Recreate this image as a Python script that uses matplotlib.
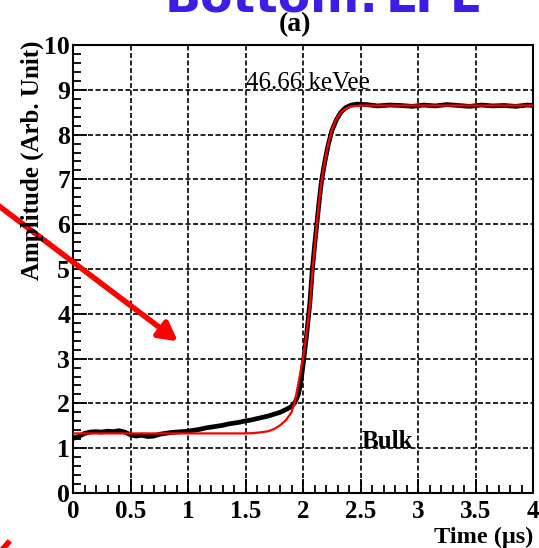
import matplotlib
matplotlib.use("Agg")
import matplotlib.pyplot as plt
from matplotlib.ticker import MultipleLocator

# pulse data (black)
t_data = [0.00, 0.05, 0.10, 0.15, 0.20, 0.25, 0.30, 0.35, 0.40, 0.45,
          0.50, 0.55, 0.60, 0.65, 0.70, 0.75, 0.80, 0.85, 0.90, 0.95,
          1.00, 1.05, 1.10, 1.15, 1.20, 1.25, 1.30, 1.35, 1.40, 1.45,
          1.50, 1.55, 1.60, 1.65, 1.70, 1.75, 1.80, 1.85, 1.90, 1.93,
          1.96, 1.98, 2.00, 2.03, 2.06, 2.08, 2.10, 2.12, 2.14, 2.16,
          2.19, 2.22, 2.25, 2.29, 2.33, 2.37, 2.42, 2.47, 2.55, 2.65,
          2.75, 2.85, 2.95, 3.05, 3.15, 3.25, 3.35, 3.45, 3.55, 3.65,
          3.75, 3.85, 3.95, 4.00]
amp_data = [1.22, 1.26, 1.33, 1.36, 1.37, 1.36, 1.38, 1.37, 1.39, 1.36,
            1.30, 1.27, 1.29, 1.26, 1.27, 1.31, 1.33, 1.35, 1.36, 1.37,
            1.38, 1.40, 1.42, 1.45, 1.47, 1.49, 1.51, 1.54, 1.56, 1.58,
            1.61, 1.63, 1.66, 1.69, 1.72, 1.76, 1.80, 1.86, 1.93, 2.02,
            2.20, 2.45, 2.85, 3.50, 4.25, 4.95, 5.50, 6.00, 6.50, 6.95,
            7.40, 7.78, 8.08, 8.33, 8.50, 8.60, 8.66, 8.68, 8.67, 8.64,
            8.66, 8.65, 8.63, 8.66, 8.64, 8.67, 8.65, 8.63, 8.66, 8.64,
            8.65, 8.63, 8.66, 8.65]

# fitted pulse (red)
t_fit = [0.00, 0.50, 1.00, 1.50, 1.55, 1.60, 1.65, 1.70, 1.75, 1.80,
         1.85, 1.90, 1.93, 1.96, 2.00, 2.03, 2.06, 2.08, 2.10, 2.12,
         2.14, 2.16, 2.19, 2.22, 2.25, 2.29, 2.33, 2.37, 2.42, 2.50,
         3.00, 4.00]
amp_fit = [1.33, 1.33, 1.33, 1.33, 1.335, 1.345, 1.36, 1.38, 1.43, 1.51,
           1.62, 1.80, 2.05, 2.45, 3.00, 3.55, 4.20, 4.90, 5.45, 6.00,
           6.50, 6.95, 7.40, 7.80, 8.10, 8.35, 8.50, 8.58, 8.63, 8.65,
           8.65, 8.65]

W, H = 539, 548
fig = plt.figure(figsize=(W / 100, H / 100), dpi=100)
ax = fig.add_axes([73 / W, 1 - 493 / H, 460 / W, 448 / H])

serif = ["Liberation Serif", "DejaVu Serif"]

ax.plot(t_data, amp_data, color="black", lw=3.4, solid_joinstyle="miter", zorder=3)
ax.plot(t_fit, amp_fit, color="red", lw=1.6, zorder=4)

ax.set_xlim(0, 4)
ax.set_ylim(0, 10)
ax.xaxis.set_major_locator(MultipleLocator(0.5))
ax.xaxis.set_minor_locator(MultipleLocator(0.1))
ax.yaxis.set_major_locator(MultipleLocator(1))
ax.yaxis.set_minor_locator(MultipleLocator(0.2))
ax.tick_params(which="both", direction="in", top=False, right=False, width=1.3)
ax.tick_params(which="major", length=10)
ax.tick_params(which="minor", length=5.5)
ax.tick_params(axis="x", pad=5)
ax.tick_params(axis="y", pad=2)
ax.set_xticks([0, 0.5, 1, 1.5, 2, 2.5, 3, 3.5, 4])
ax.set_xticklabels(["0", "0.5", "1", "1.5", "2", "2.5", "3", "3.5", "4"],
                   fontfamily=serif, fontweight="bold", fontsize=18)
for lab in ax.get_yticklabels():
    lab.set_fontfamily(serif)
    lab.set_fontweight("bold")
    lab.set_fontsize(18.5)
ax.grid(True, which="major", color="black", lw=1.2, ls=(0, (3, 1.5)), zorder=1)
for s in ax.spines.values():
    s.set_linewidth(1.5)

ax.text(1.5, 9.02, "46.66 keVee", fontfamily=serif, fontsize=18, va="baseline")
ax.text(2.51, 1.0, "Bulk", fontfamily=serif, fontsize=18, fontweight="bold",
        va="baseline")

fig.text(295 / W, 1 - 25 / H, "(a)", fontfamily=serif, fontsize=20,
         fontweight="bold", ha="center", va="center")
fig.text(533 / W, 1 - 537 / H, "Time (\u03bcs)", fontfamily=serif, fontsize=17.5,
         fontweight="bold", ha="right", va="center")
fig.text(32 / W, 1 - 40 / H, "Amplitude (Arb. Unit)", fontfamily=serif,
         fontsize=18, fontweight="bold", rotation=90, ha="center", va="top")

# slide overlay: cut-off title and red arrow
fig.text(165 / W, 1 - 12 / H, "Bottom:", color="#3a1de6", fontsize=34,
         fontweight="bold", ha="left", va="baseline")
fig.text(386 / W, 1 - 12 / H, "LPE", color="#3a1de6", fontsize=34,
         fontweight="bold", ha="left", va="baseline")
ax.annotate("", xy=(180 / W, 1 - 343 / H), xytext=(-5 / W, 1 - 203 / H),
            xycoords="figure fraction", textcoords="figure fraction",
            arrowprops=dict(arrowstyle="-|>,head_length=1.1,head_width=0.6",
                            color="red", lw=4), annotation_clip=False)
fig.add_artist(plt.Line2D([0, 8 / W], [1 - 552 / H, 1 - 543 / H], color="red",
                          lw=4, transform=fig.transFigure))

fig.savefig("out.png", dpi=100)
